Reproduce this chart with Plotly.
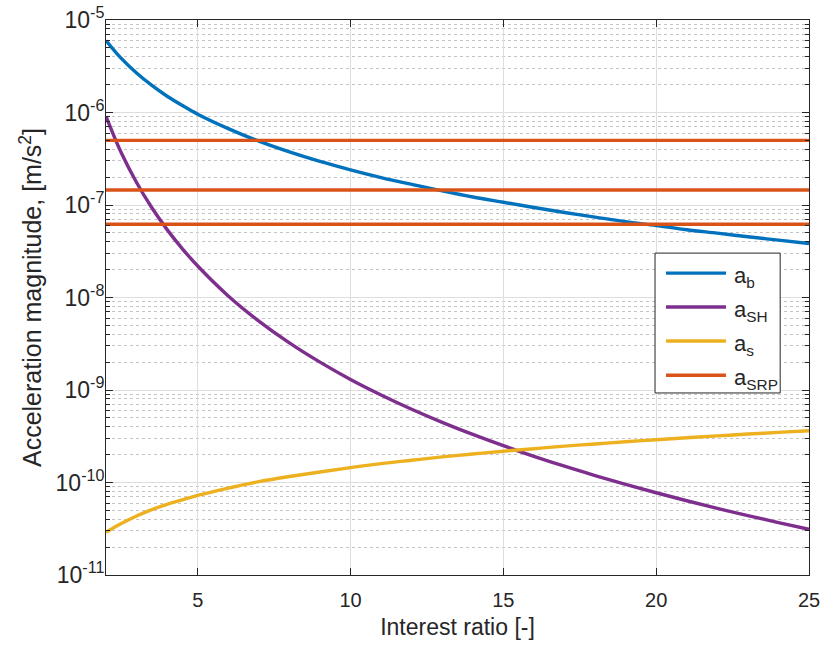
import plotly.graph_objects as go

# Interest ratio samples
ratio = [2, 2.5, 3, 3.5, 4, 4.5, 5, 6, 7, 8, 9, 10, 11, 12, 13, 14, 15,
         16, 17, 18, 19, 20, 21, 22, 23, 24, 25]

# Acceleration magnitudes [m/s^2]
a_b = [6.0e-6, 3.84e-6, 2.67e-6, 1.96e-6, 1.5e-6, 1.19e-6, 9.6e-7, 6.7e-7,
       4.9e-7, 3.75e-7, 2.96e-7, 2.4e-7, 1.98e-7, 1.67e-7, 1.42e-7, 1.22e-7,
       1.07e-7, 9.4e-8, 8.3e-8, 7.4e-8, 6.6e-8, 6.0e-8, 5.4e-8, 4.96e-8,
       4.54e-8, 4.17e-8, 3.84e-8]
a_SH = [9.1e-7, 3.67e-7, 1.75e-7, 9.33e-8, 5.42e-8, 3.36e-8, 2.19e-8, 1.04e-8,
        5.56e-9, 3.23e-9, 2.0e-9, 1.3e-9, 8.83e-10, 6.19e-10, 4.47e-10,
        3.31e-10, 2.5e-10, 1.92e-10, 1.5e-10, 1.19e-10, 9.54e-11, 7.75e-11,
        6.35e-11, 5.26e-11, 4.39e-11, 3.69e-11, 3.12e-11]
a_s = [2.9e-11, 3.6e-11, 4.35e-11, 5.1e-11, 5.8e-11, 6.5e-11, 7.25e-11,
       8.7e-11, 1.02e-10, 1.16e-10, 1.3e-10, 1.45e-10, 1.6e-10, 1.74e-10,
       1.89e-10, 2.03e-10, 2.18e-10, 2.32e-10, 2.47e-10, 2.61e-10, 2.76e-10,
       2.9e-10, 3.05e-10, 3.19e-10, 3.34e-10, 3.48e-10, 3.63e-10]
a_SRP_levels = [5.0e-7, 1.45e-7, 6.2e-8]

x_ticks = [5, 10, 15, 20, 25]
y_ticks = [1e-11, 1e-10, 1e-9, 1e-8, 1e-7, 1e-6, 1e-5]
y_ticktext = ["10<sup>-11</sup>", "10<sup>-10</sup>", "10<sup>-9</sup>",
              "10<sup>-8</sup>", "10<sup>-7</sup>", "10<sup>-6</sup>",
              "10<sup>-5</sup>"]

C_B = "#0072BD"
C_SH = "#7E2F8E"
C_S = "#EDB120"
C_SRP = "#D95319"
LW = 3.4
FONT = "Liberation Sans, Arial, Helvetica, sans-serif"
AX = "#262626"

fig = go.Figure()
fig.add_trace(go.Scatter(x=ratio, y=a_b, mode="lines", line=dict(color=C_B, width=LW, shape="spline"), name="a<sub>b</sub>"))
fig.add_trace(go.Scatter(x=ratio, y=a_SH, mode="lines", line=dict(color=C_SH, width=LW, shape="spline"), name="a<sub>SH</sub>"))
fig.add_trace(go.Scatter(x=ratio, y=a_s, mode="lines", line=dict(color=C_S, width=LW, shape="spline"), name="a<sub>s</sub>"))
for lvl in a_SRP_levels:
    fig.add_trace(go.Scatter(x=[ratio[0], ratio[-1]], y=[lvl, lvl], mode="lines",
                             line=dict(color=C_SRP, width=LW), name="a<sub>SRP</sub>"))

# Legend box drawn in paper coordinates
entries = [("a<sub>b</sub>", C_B), ("a<sub>SH</sub>", C_SH),
           ("a<sub>s</sub>", C_S), ("a<sub>SRP</sub>", C_SRP)]
bx0, bx1, by0, by1 = 0.781, 0.959, 0.328, 0.580
shapes = [dict(type="rect", xref="paper", yref="paper", x0=bx0, x1=bx1, y0=by0, y1=by1,
               line=dict(color=AX, width=1), fillcolor="white", layer="above")]
annotations = []
entry_y = [0.544, 0.483, 0.4216, 0.360]
for (label, col), ey in zip(entries, entry_y):
    shapes.append(dict(type="line", xref="paper", yref="paper", x0=0.7966, x1=0.8819,
                       y0=ey, y1=ey, line=dict(color=col, width=LW), layer="above"))
    annotations.append(dict(xref="paper", yref="paper", x=0.8905, y=ey, text=label,
                            showarrow=False, xanchor="left", yanchor="middle", yshift=-4,
                            font=dict(family=FONT, size=22, color=AX)))

fig.update_layout(
    width=827, height=647,
    margin=dict(l=106, r=18, t=20, b=72),
    paper_bgcolor="white", plot_bgcolor="white",
    showlegend=False,
    font=dict(family=FONT, size=21, color=AX),
    shapes=shapes, annotations=annotations,
)
fig.update_xaxes(
    range=[2, 25], tickvals=x_ticks, ticks="inside", ticklen=7, tickcolor=AX,
    showline=True, linecolor=AX, linewidth=1, mirror="ticks",
    showgrid=True, gridcolor="#dedede", gridwidth=1, zeroline=False,
    tickfont=dict(size=20, color=AX), ticklabelstandoff=7, automargin=False,
    title=dict(text="Interest ratio [-]", font=dict(size=23, color=AX), standoff=8),
)
fig.update_yaxes(
    type="log", range=[-11, -5], tickvals=y_ticks, ticktext=y_ticktext,
    ticks="inside", ticklen=7, tickcolor=AX,
    showline=True, linecolor=AX, linewidth=1, mirror="ticks",
    showgrid=True, gridcolor="#dedede", gridwidth=1, zeroline=False,
    tickfont=dict(size=23, color=AX), ticklabelstandoff=-4, automargin=False,
    minor=dict(dtick="D1", ticks="inside", ticklen=4, tickcolor=AX,
               showgrid=True, gridcolor="#c4c4c4", griddash="dot", gridwidth=1),
    title=dict(text="Acceleration magnitude, [m/s<sup>2</sup>]", font=dict(size=25, color=AX), standoff=6),
)

fig.write_html("out.html")
